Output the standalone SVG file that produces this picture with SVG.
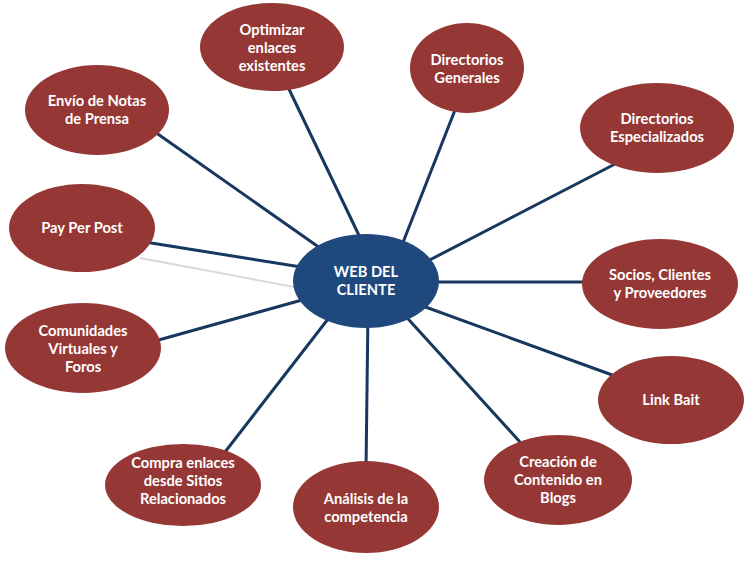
<svg xmlns="http://www.w3.org/2000/svg" width="753" height="561" viewBox="0 0 753 561">
<style>
.n{fill:#953735;}
.c{fill:#1F497D;}
.t{fill:#FFFFFF;font-family:Lato,"Open Sans","Liberation Sans",sans-serif;font-weight:bold;font-size:14.7px;text-anchor:middle;}
.l{stroke:#17375E;stroke-width:3;fill:none;}
.g{stroke:#D9D9D9;stroke-width:2;fill:none;}
</style>
<rect width="753" height="561" fill="#FFFFFF"/>
<g id="connectors">
<line class="g" x1="140" y1="258" x2="310" y2="290"/>
<line class="l" x1="155" y1="132" x2="330" y2="255"/>
<line class="l" x1="287" y1="85" x2="366" y2="250"/>
<line class="l" x1="457" y1="105" x2="400" y2="250"/>
<line class="l" x1="615" y1="164" x2="420" y2="265"/>
<line class="l" x1="590" y1="282" x2="420" y2="282"/>
<line class="l" x1="615" y1="376" x2="420" y2="305"/>
<line class="l" x1="520" y1="442" x2="400" y2="310"/>
<line class="l" x1="366" y1="470" x2="368" y2="310"/>
<line class="l" x1="225" y1="452" x2="335" y2="310"/>
<line class="l" x1="155" y1="341" x2="320" y2="295"/>
<line class="l" x1="145" y1="242" x2="320" y2="270"/>
</g>
<g id="center"><ellipse class="c" cx="366" cy="281" rx="73" ry="47"/><text class="t" x="366" y="277">WEB DEL</text><text class="t" x="366" y="295">CLIENTE</text></g>
<g id="optimizar"><ellipse class="n" cx="272" cy="47" rx="72" ry="44"/><text class="t" x="272" y="35">Optimizar</text><text class="t" x="272" y="53">enlaces</text><text class="t" x="272" y="71">existentes</text></g>
<g id="dir-generales"><ellipse class="n" cx="467" cy="68" rx="57" ry="45"/><text class="t" x="467" y="65">Directorios</text><text class="t" x="467" y="83">Generales</text></g>
<g id="dir-especializados"><ellipse class="n" cx="657" cy="128" rx="77" ry="45"/><text class="t" x="657" y="124">Directorios</text><text class="t" x="657" y="142">Especializados</text></g>
<g id="socios"><ellipse class="n" cx="660" cy="284" rx="78" ry="45"/><text class="t" x="660" y="280">Socios, Clientes</text><text class="t" x="660" y="298">y Proveedores</text></g>
<g id="link-bait"><ellipse class="n" cx="671" cy="400" rx="73" ry="44"/><text class="t" x="671" y="405">Link Bait</text></g>
<g id="creacion"><ellipse class="n" cx="558" cy="480" rx="74" ry="45"/><text class="t" x="558" y="467">Creación de</text><text class="t" x="558" y="485">Contenido en</text><text class="t" x="558" y="503">Blogs</text></g>
<g id="analisis"><ellipse class="n" cx="366" cy="507" rx="73" ry="46"/><text class="t" x="366" y="504">Análisis de la</text><text class="t" x="366" y="522">competencia</text></g>
<g id="compra"><ellipse class="n" cx="183" cy="485" rx="78" ry="41"/><text class="t" x="183" y="468">Compra enlaces</text><text class="t" x="183" y="486">desde Sitios</text><text class="t" x="183" y="504">Relacionados</text></g>
<g id="comunidades"><ellipse class="n" cx="83" cy="348" rx="78" ry="45"/><text class="t" x="83" y="336">Comunidades</text><text class="t" x="83" y="354">Virtuales y</text><text class="t" x="83" y="372">Foros</text></g>
<g id="pay-per-post"><ellipse class="n" cx="82" cy="228" rx="73" ry="44"/><text class="t" x="82" y="233">Pay Per Post</text></g>
<g id="envio"><ellipse class="n" cx="97" cy="110" rx="72" ry="45"/><text class="t" x="97" y="106">Envío de Notas</text><text class="t" x="97" y="124">de Prensa</text></g>
</svg>
